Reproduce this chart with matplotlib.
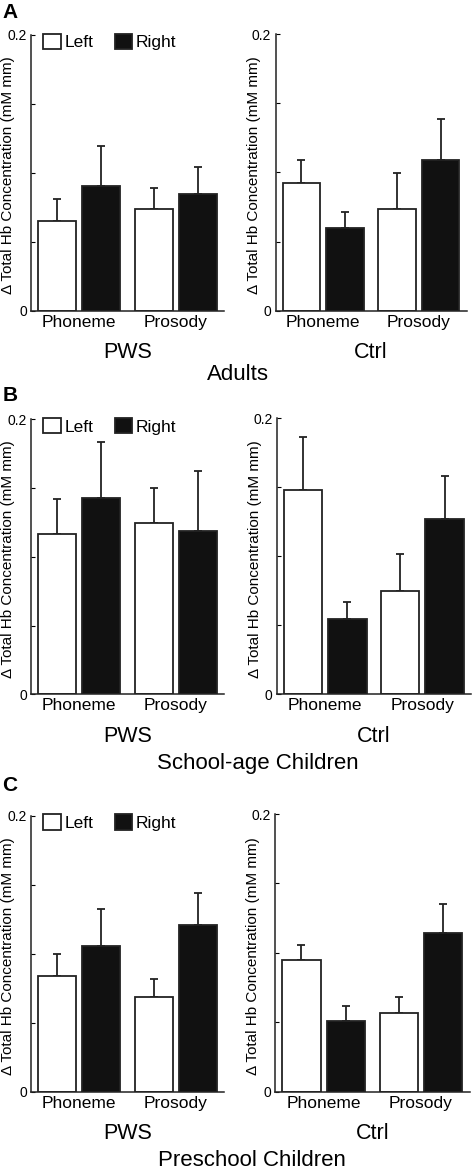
import numpy as np
import matplotlib
matplotlib.use("Agg")
import matplotlib.pyplot as plt
from matplotlib.patches import Patch

plt.rcParams['font.family'] = ['Liberation Sans', 'DejaVu Sans']

# Data (mean and top of error bar)
conditions = ["Phoneme", "Prosody"]
hemispheres = ["Left", "Right"]
groups = ["PWS", "Ctrl"]
ages = ["Adults", "School-age Children", "Preschool Children"]
panel_letters = ["A", "B", "C"]

# [hemisphere][condition]
adults_pws_mean = [[0.0648, 0.0735], [0.0904, 0.0849]]
adults_pws_top = [[0.0813, 0.0890], [0.1195, 0.1045]]
adults_ctrl_mean = [[0.0926, 0.0736], [0.0601, 0.1093]]
adults_ctrl_top = [[0.1088, 0.0999], [0.0717, 0.1385]]

school_pws_mean = [[0.1168, 0.1246], [0.1425, 0.1185]]
school_pws_top = [[0.1418, 0.1503], [0.1833, 0.1627]]
school_ctrl_mean = [[0.1478, 0.0751], [0.0548, 0.1273]]
school_ctrl_top = [[0.1867, 0.1017], [0.0669, 0.1585]]

pre_pws_mean = [[0.0836, 0.0684], [0.1053, 0.1208]]
pre_pws_top = [[0.0998, 0.0814], [0.1321, 0.1437]]
pre_ctrl_mean = [[0.0946, 0.0564], [0.0511, 0.1145]]
pre_ctrl_top = [[0.1056, 0.0679], [0.0615, 0.1352]]

means = [[adults_pws_mean, adults_ctrl_mean],
         [school_pws_mean, school_ctrl_mean],
         [pre_pws_mean, pre_ctrl_mean]]
tops = [[adults_pws_top, adults_ctrl_top],
        [school_pws_top, school_ctrl_top],
        [pre_pws_top, pre_ctrl_top]]

W, H = 472, 1169
fig = plt.figure(figsize=(W / 100, H / 100), dpi=100)

# axes boxes in pixels: (left, right, top(y=0.2), bottom(y=0))
boxes = [
    [(31, 224, 35.0, 310.7), (275.5, 466.5, 34.3, 310.7)],
    [(31, 224, 419.3, 694.3), (276.7, 471.0, 418.3, 694.3)],
    [(31, 224, 815.7, 1091.7), (275.0, 469.6, 814.0, 1091.7)],
]
title_pos = [(237.5, 374), (257.5, 764), (251.7, 1160)]
letter_pos = [(2, 3), (3, 386), (2, 776)]

colors = ["white", "#111111"]
x = np.arange(1, len(conditions) + 1)
width = 0.395
offset = 0.228

for r in range(3):
    for c in range(2):
        l, rr, t, b = boxes[r][c]
        ax = fig.add_axes([l / W, 1 - b / H, (rr - l) / W, (b - t) / H])
        for h in range(2):
            m = np.array(means[r][c][h])
            e = np.array(tops[r][c][h]) - m
            xs = x + (h - 0.5) * 2 * offset
            ax.bar(xs, m, width, color=colors[h], edgecolor="#222222",
                   linewidth=1.3, zorder=2)
            ax.errorbar(xs, m, yerr=[np.zeros_like(e), e], fmt="none",
                        ecolor="#222222", elinewidth=1.3, capsize=3,
                        capthick=1.3, zorder=1)
        ax.set_xlim(0.5, 2.5)
        ax.set_ylim(0, 0.2)
        ax.set_xticks(x)
        ax.set_xticklabels(conditions, fontsize=12.5)
        ax.set_yticks([0, 0.05, 0.1, 0.15, 0.2])
        ax.set_yticklabels(["0", "", "", "", "0.2"], fontsize=10)
        ax.tick_params(axis="x", length=0, pad=3)
        ax.tick_params(axis="y", direction="in", length=3, pad=3)
        for s in ["top", "right"]:
            ax.spines[s].set_visible(False)
        for s in ["left", "bottom"]:
            ax.spines[s].set_linewidth(1.1)
            ax.spines[s].set_color("#222222")
        ax.set_ylabel("\u0394 Total Hb Concentration (mM mm)", fontsize=11)
        ax.yaxis.set_label_coords(-0.083 if c == 0 else -0.076, 0.49)
        ax.text(0.5, -42 / (b - t), groups[c], transform=ax.transAxes,
                ha="center", va="center", fontsize=15.5)
        if c == 0:
            handles = [Patch(facecolor=colors[0], edgecolor="#222222", linewidth=1.3),
                       Patch(facecolor=colors[1], edgecolor="#222222", linewidth=1.3)]
            ax.legend(handles, hemispheres, loc="upper left", ncol=2,
                      bbox_to_anchor=(0.064, 1.005), frameon=False, fontsize=12.5,
                      handlelength=1.0, handleheight=1.0, handletextpad=0.2,
                      columnspacing=1.25, borderpad=0, borderaxespad=0)
    tx, ty = title_pos[r]
    fig.text(tx / W, 1 - ty / H, ages[r], ha="center", va="center", fontsize=16)
    lx, ly = letter_pos[r]
    fig.text(lx / W, 1 - ly / H, panel_letters[r], ha="left", va="top",
             fontsize=15, fontweight="bold")

fig.savefig("out.png", dpi=100)
